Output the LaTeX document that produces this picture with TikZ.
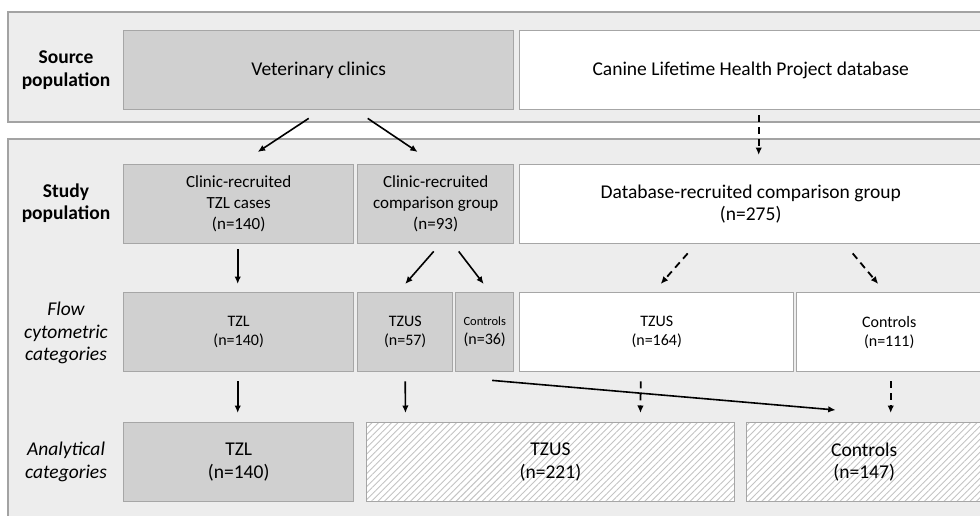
\documentclass[tikz,border=0pt]{standalone}
\usepackage{fontspec}
\setmainfont{Carlito}
\usetikzlibrary{arrows.meta,patterns.meta}
\definecolor{bandfill}{HTML}{EDEDED}
\definecolor{bandline}{HTML}{A3A3A3}
\definecolor{boxgrey}{HTML}{D0D0D0}
\definecolor{boxline}{HTML}{A6A6A6}
\definecolor{hatchcol}{HTML}{C4C4C4}
\tikzset{
  band/.style={fill=bandfill, draw=bandline, line width=1.1pt},
  box/.style={draw=boxline, line width=1.4pt, inner sep=0pt, align=center, anchor=north west},
  greybox/.style={box, fill=boxgrey},
  whitebox/.style={box, fill=white},
  hatchbox/.style={box, preaction={fill=white}, pattern={Lines[angle=45,distance=4.6pt,line width=0.9pt]}, pattern color=hatchcol},
  big/.style={font=\fontsize{19.5}{22.5}\selectfont},
  mid/.style={font=\fontsize{17}{21}\selectfont},
  small/.style={font=\fontsize{16}{19}\selectfont},
  lbl/.style={align=center, inner sep=0pt},
  arr/.style={-{Latex[length=7.5pt,width=6.5pt]}, line width=1.6pt, black},
  darr/.style={arr, dash pattern=on 7pt off 5pt, line width=1.8pt},
}
\begin{document}
\begin{tikzpicture}[x=1pt,y=-1pt]
\useasboundingbox (0,0) rectangle (980,515);
% bands
\draw[band] (8,12) rectangle (995,122);
\draw[band] (8,139) rectangle (995,530);
% row labels
\node[lbl, font=\fontsize{19.5}{22.5}\selectfont\bfseries] (lsrc) at (66,70) {Source\\population};
\node[lbl, font=\fontsize{19.5}{22.5}\selectfont\bfseries] (lstudy) at (66,203) {Study\\population};
\node[lbl, font=\fontsize{19.5}{22.5}\selectfont\itshape] (lflow) at (66,333) {Flow\\cytometric\\categories};
\node[lbl, font=\fontsize{19.5}{22.5}\selectfont\itshape] (lanal) at (66,462) {Analytical\\categories};
% source row
\node[greybox, big, minimum width=390pt, minimum height=79pt] (vet) at (123,30) {Veterinary clinics};
\node[whitebox, big, minimum width=462pt, minimum height=79pt] (canine) at (519,30) {Canine Lifetime Health Project database};
% study row
\node[greybox, mid, minimum width=230pt, minimum height=79pt] (cases) at (123,164) {Clinic-recruited\\TZL cases\\(n=140)};
\node[greybox, mid, minimum width=156pt, minimum height=79pt] (comp) at (357,164) {Clinic-recruited\\comparison group\\(n=93)};
\node[whitebox, big, minimum width=462pt, minimum height=79pt] (db) at (519,164) {Database-recruited comparison group\\(n=275)};
% flow row
\node[greybox, small, minimum width=230pt, minimum height=79pt] (tzlf) at (123,292) {TZL\\(n=140)};
\node[greybox, small, minimum width=95pt, minimum height=79pt] (tzusf) at (357,292) {TZUS\\(n=57)};
\node[greybox, small, minimum width=58pt, minimum height=79pt] (ctrlf) at (455,292) {{\fontsize{12.5}{19}\selectfont Controls}\\(n=36)};
\node[whitebox, small, minimum width=274pt, minimum height=79pt] (tzusdbf) at (519,292) {TZUS\\(n=164)};
\node[whitebox, small, minimum width=185pt, minimum height=79pt] (ctrldbf) at (796,292) {Controls\\(n=111)};
% analytical row
\node[greybox, big, minimum width=230pt, minimum height=79pt] (tzla) at (123,422) {TZL\\(n=140)};
\node[hatchbox, big, minimum width=368pt, minimum height=79pt] (tzusa) at (366,422) {TZUS\\(n=221)};
\node[hatchbox, big, minimum width=235pt, minimum height=79pt] (ctrla) at (746,422) {Controls\\(n=147)};
% arrows source -> study
\draw[arr] ([xshift=-10pt,yshift=-8pt]vet.south) -- ([xshift=19pt,yshift=12pt]cases.north);
\draw[arr] ([xshift=49pt,yshift=-8pt]vet.south) -- ([xshift=-18pt,yshift=12pt]comp.north);
\draw[darr] ([xshift=8pt,yshift=-5pt]canine.south) -- ([xshift=8pt,yshift=9pt]db.north);
% study -> flow
\draw[arr] ([xshift=-1pt,yshift=-5pt]cases.south) -- ([xshift=-1pt,yshift=8pt]tzlf.north);
\draw[arr] ([xshift=-2pt,yshift=-7pt]comp.south) -- ([xshift=0pt,yshift=8pt]tzusf.north);
\draw[arr] ([xshift=23pt,yshift=-7pt]comp.south) -- ([xshift=-1pt,yshift=8pt]ctrlf.north);
\draw[darr] ([xshift=-63pt,yshift=-9pt]db.south) -- ([xshift=4pt,yshift=8pt]tzusdbf.north);
\draw[darr] ([xshift=102pt,yshift=-9pt]db.south) -- ([xshift=-11pt,yshift=8pt]ctrldbf.north);
% flow -> analytical
\draw[arr] ([xshift=-1pt,yshift=-9pt]tzlf.south) -- ([xshift=-1pt,yshift=9pt]tzla.north);
\draw[arr] ([xshift=0pt,yshift=-9pt]tzusf.south) -- ([xshift=-145pt,yshift=9pt]tzusa.north);
\draw[arr] ([xshift=7.5pt,yshift=-8pt]ctrlf.south) -- ([xshift=-28.5pt,yshift=12pt]ctrla.north);
\draw[darr] ([xshift=-16pt,yshift=-9pt]tzusdbf.south) -- ([xshift=90pt,yshift=9pt]tzusa.north);
\draw[darr] ([xshift=1.5pt,yshift=-9pt]ctrldbf.south) -- ([xshift=26.5pt,yshift=9pt]ctrla.north);
\end{tikzpicture}
\end{document}
